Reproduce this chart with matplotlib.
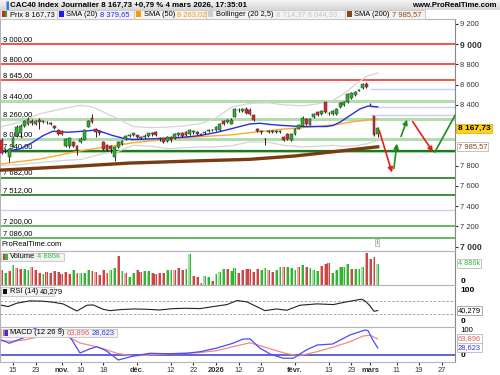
import numpy as np
import matplotlib
matplotlib.use("Agg")
import matplotlib.pyplot as plt
import matplotlib.transforms as mtransforms
from matplotlib.patches import Rectangle

plt.rcParams['font.family'] = ['Liberation Sans', 'DejaVu Sans']

W, H = 500, 375

# trading-day index: 0 = 15 oct. 2025 ... 97 = 4 mars 2026 (first candle = 10 oct.)
first_day = -3
opens = [8054, 7945, 7885, 7990, 8090, 8120, 8190, 8215, 8245, 8215, 8255, 8230, 8232, 8225,
         8195, 8150, 8140, 7995, 7990, 8035, 7995, 8030, 8055, 8185, 8270, 8160, 8140, 8030,
         8000, 7990, 7885, 7985, 8010, 8065, 8095, 8098, 8100, 8075, 8085, 8095, 8125, 8135,
         8070, 8070, 8040, 8080, 8070, 8105, 8120, 8130, 8110, 8130, 8130, 8110, 8120, 8140,
         8150, 8150, 8150, 8240, 8230, 8215, 8280, 8350, 8340, 8360, 8350, 8300, 8160, 8140,
         8065, 8135, 8140, 8130, 8140, 8085, 8115, 8055, 8115, 8165, 8195, 8260, 8205, 8280,
         8330, 8305, 8425, 8320, 8310, 8305, 8375, 8395, 8425, 8465, 8495, 8540, 8565, 8610,
         8400, 8285, 8115]
highs = [8070, 7975, 7970, 8090, 8200, 8215, 8255, 8275, 8262, 8255, 8265, 8250, 8240, 8235,
         8200, 8160, 8150, 8075, 8080, 8045, 8000, 8080, 8160, 8250, 8310, 8175, 8150, 8040,
         8010, 8000, 7995, 8040, 8050, 8100, 8110, 8125, 8105, 8090, 8110, 8125, 8130, 8140,
         8080, 8075, 8095, 8090, 8120, 8135, 8130, 8145, 8160, 8155, 8140, 8118, 8145, 8160,
         8158, 8195, 8220, 8250, 8260, 8265, 8365, 8370, 8370, 8375, 8365, 8310, 8175, 8150,
         8070, 8155, 8150, 8155, 8150, 8095, 8120, 8120, 8170, 8215, 8285, 8270, 8270, 8315,
         8340, 8350, 8430, 8330, 8350, 8370, 8430, 8435, 8520, 8530, 8535, 8560, 8620, 8630,
         8420, 8290, 8180]
lows = [7910, 7925, 7835, 7980, 8080, 8070, 8180, 8200, 8205, 8200, 8160, 8225, 8215, 8205,
        8160, 8105, 8100, 7985, 7975, 7980, 7905, 8020, 8050, 8180, 8225, 8080, 8105, 7955,
        7945, 7920, 7850, 7975, 8000, 8055, 8085, 8090, 8070, 8060, 8070, 8085, 8095, 8095,
        8045, 8020, 8030, 8030, 8060, 8095, 8085, 8095, 8100, 8115, 8105, 8100, 8110, 8130,
        8138, 8145, 8140, 8205, 8220, 8210, 8275, 8330, 8330, 8305, 8300, 8240, 8130, 8110,
        8000, 8125, 8120, 8120, 8120, 8040, 8050, 8045, 8105, 8160, 8190, 8205, 8200, 8270,
        8290, 8295, 8320, 8300, 8300, 8300, 8365, 8390, 8420, 8460, 8490, 8535, 8560, 8570,
        8395, 8095, 8080]
closes = [7925, 7955, 7960, 8075, 8180, 8195, 8240, 8260, 8225, 8245, 8235, 8240, 8228, 8215,
          8170, 8115, 8115, 8060, 8070, 7990, 7955, 8065, 8150, 8240, 8235, 8130, 8120, 7965,
          7955, 7960, 7985, 8030, 8040, 8095, 8100, 8120, 8080, 8080, 8088, 8118, 8108, 8105,
          8060, 8030, 8085, 8050, 8110, 8125, 8095, 8105, 8150, 8145, 8115, 8105, 8135, 8150,
          8148, 8185, 8210, 8215, 8250, 8250, 8355, 8345, 8355, 8315, 8310, 8255, 8145, 8130,
          8062, 8145, 8130, 8145, 8130, 8050, 8060, 8110, 8160, 8205, 8270, 8215, 8260, 8305,
          8300, 8340, 8330, 8318, 8340, 8360, 8420, 8425, 8510, 8520, 8525, 8548, 8610, 8580,
          8397, 8104, 8167.73]

# volume in thousands, colour as shown (1 = green, 0 = red)
volumes = [3300, 2800, 3200, 4600, 3800, 3700, 3600, 3300, 4100, 3300, 2800, 2500, 2900, 2800,
           3100, 3000, 2500, 2900, 2400, 3300, 2700, 2700, 2700, 3300, 3100, 2900, 2200, 3500,
           2800, 3300, 3800, 6700, 3100, 2800, 1900, 2700, 3500, 3000, 3200, 3200, 2700, 2400,
           2800, 2800, 3300, 3300, 3500, 3800, 3300, 3600, 7100, 2100, 1900,
           400, 2100, 1800, 900, 2500, 3000, 3600, 3600, 3200, 3800, 2700, 3300, 3600, 3700,
           3000, 3700, 3400, 3800, 3300, 2900, 3500, 4100, 4100, 4100, 3900, 3500, 4100, 4600,
           4100, 3800, 3500, 3200, 4400, 4800, 5000, 2800, 3300, 4100, 4100, 4800, 3700, 3700,
           3700, 4000, 7200, 6000, 6400, 4886]
vol_up = [0, 1, 0, 1, 0, 0, 1, 1, 0, 0, 0, 1, 0, 0, 0, 0, 0, 0, 0, 1, 0, 1, 1, 1, 0, 0, 0, 0,
          0, 1, 1, 0, 1, 0, 1, 1, 0, 0, 1, 1, 0, 0, 0, 0, 1, 1, 0, 0, 0, 1, 1, 0, 0,
          0, 1, 1, 0, 1, 1, 1, 0, 1, 1, 0, 0, 0, 0, 0, 0, 1, 1, 0, 0, 1, 1, 0, 1, 1, 1, 0, 1,
          0, 1, 1, 1, 0, 0, 0, 1, 1, 1, 1, 1, 0, 1, 1, 1, 0, 0, 0, 1]

# indicator lines: (day index, value)
sma20_x = [-3.5, 1.9, 5.3, 8, 10.6, 14.4, 18.6, 22.3, 23.9, 26.6, 29.3, 31.9, 36.4, 41, 45.2,
           49.7, 54.3, 58.5, 63, 65.7, 68.4, 71.8, 76.3, 80.9, 83.5, 85.1, 87, 89.6, 92.3, 94.5, 97]
sma20_y = [7935, 7965, 8031, 8096, 8139, 8129, 8139, 8152, 8129, 8096, 8070, 8057, 8063, 8070,
           8080, 8096, 8129, 8168, 8211, 8218, 8206, 8196, 8186, 8186, 8186, 8196, 8229, 8294,
           8360, 8388, 8379.65]
sma50_x = [-3.5, 7.2, 18.6, 25.8, 31.9, 41, 49.7, 58.5, 63, 71.8, 80.9, 86.2, 89.6, 97]
sma50_y = [7815, 7865, 7950, 7990, 8025, 8060, 8085, 8105, 8125, 8160, 8186, 8206, 8229, 8263.02]
sma200_x = [-3.5, 15, 31, 50, 63, 75, 86, 97]
sma200_y = [7755, 7790, 7825, 7848, 7862, 7895, 7940, 7985.57]
boll_x = [-3.5, 2, 7, 13, 18, 21, 24, 28, 32, 37, 41, 45, 50, 54, 58, 63, 68, 72, 77, 81, 85,
          88, 91, 94, 97]
boll_up = [8180, 8230, 8310, 8360, 8395, 8380, 8330, 8260, 8185, 8175, 8180, 8190, 8215, 8270,
           8375, 8415, 8420, 8400, 8390, 8410, 8440, 8510, 8600, 8680, 8714.37]
boll_dn = [7800, 7810, 7830, 7850, 7860, 7890, 7919, 7940, 8001, 7990, 7968, 7975, 7984, 7985,
           7995, 8034, 8030, 8000, 7985, 7990, 8000, 7990, 7995, 8015, 8044.93]

rsi_x = [-3.5, -1.3, 1, 4.5, 8, 10.6, 13.3, 17, 19.7, 21.3, 24, 25.8, 28.5, 32, 35.6, 39, 42.6,
         46.2, 49.7, 53.2, 56.9, 59.6, 62.2, 64.8, 67, 70.1, 72.8, 76.3, 80.8, 85.2, 88.7, 92.7,
         93.6, 94.9, 96, 97]
rsi_y = [57, 52, 62, 69, 68, 65, 60, 39, 56, 57, 44, 40, 43, 45, 44, 42, 46, 47, 46, 52, 58, 70,
         66, 52, 40, 45, 41, 56, 60, 58, 66, 74, 69, 55, 38, 40.279]
macd_x = [-3.5, -1, 3, 5, 8.5, 11, 13.3, 15.7, 17.8, 20.5, 22.3, 24.5, 28, 32, 36.4, 41, 46.3,
          49.7, 54, 58.5, 61, 63, 65.7, 68.4, 71.8, 74.5, 78, 80.9, 85, 89.6, 93.6, 94.4, 95.7, 97]
macd_y = [63, 47, 70, 100, 125, 118, 100, 60, 8, 25, 33, 20, -20, -4, 7, 5, 7, 13, 27, 47, 63,
          65, 27, 4, -13, -13, 20, 40, 44, 80, 100, 98, 60, 28.623]
signal_x = [-3.5, 0, 3, 6, 9, 12, 14, 17.8, 22.3, 27.6, 32, 36.4, 41, 46.2, 49.7, 54, 58.5, 63,
            67.5, 71.9, 75.9, 80.8, 85, 89.6, 93.1, 95, 97]
signal_y = [57, 55, 60, 70, 80, 85, 78, 48, 33, 7, -4, 0, 5, 7, 10, 17, 33, 49, 29, 9, -4, 13,
            31, 53, 76, 79, 63.896]

# horizontal levels drawn on the price chart
red_levels = [9000, 8800, 8645]
light_green_levels = [8440, 8260, 8060, 7940]
dark_green_levels = [7940, 7682, 7512]
green_levels = [7200, 7086]
label_levels = [9000, 8800, 8645, 8440, 8260, 8060, 7940, 7682, 7512, 7200, 7086]
blue_levels = [7360]
blue_short_levels = [8555, 8380, 8298]

# projection arrows (day from, price from, day to, price to, colour)
arrows = [(97.4, 8146, 100.8, 7732, 'red'), (101.3, 7771, 102.1, 8018, 'green'),
          (103.2, 8087, 104.8, 8254, 'green'), (106.3, 8234, 111.7, 7934, 'red')]
trend_line = (112.2, 7934, 118.5, 8360)

tick_days = [0, 6, 13, 18, 24, 33, 42, 48, 54, 60, 66, 75, 84, 90, 95, 102, 108, 114]
tick_names = ['15', '23', 'nov.', '10', '18', 'déc.', '12', '22', '2026', '12', '20', 'févr.',
              '13', '23', 'mars', '11', '19', '27']
bold_names = {'nov.', 'déc.', '2026', 'févr.', 'mars'}

UP, DN = '#27b327', '#e0262a'


def fr(v, dec=2):
    s = f"{v:,.{dec}f}"
    return s.replace(',', ' ').replace('.', ',')


fig = plt.figure(figsize=(5, 3.75), dpi=100)
renderer = fig.canvas.get_renderer()


def box(x0, y0, x1, y1):
    return fig.add_axes([x0 / W, 1 - y1 / H, (x1 - x0) / W, (y1 - y0) / H])


def ftext(x, y, s, **kw):
    return fig.text(x / W, 1 - y / H, s, **kw)


def chain(x, y, parts, gap=2.5, **kw):
    # texts written one after the other, each in its own colour
    for s, cc in parts:
        t = ftext(x, y, s, color=cc, va='center', **kw)
        bb = t.get_window_extent(renderer)
        x = x + bb.width * W / fig.bbox.width + gap
    return x


def tag(x0, y0, wdt, colours):
    fig.patches.append(Rectangle((x0 / W, 1 - (y0 + 8.5) / H), wdt / W, 8.5 / H,
                                 transform=fig.transFigure, facecolor='#f3f3f3',
                                 edgecolor='#c4c4c4', lw=0.6, zorder=10))
    n = len(colours)
    for k, col in enumerate(colours):
        fig.patches.append(Rectangle(((x0 + 2 + 5 * k / n) / W, 1 - (y0 + 7) / H),
                                     5 / n / W, 5.5 / H, transform=fig.transFigure,
                                     facecolor=col, lw=0, zorder=11))


days = np.arange(first_day, first_day + len(closes))
o, h, l, c = map(np.array, (opens, highs, lows, closes))
XL = (-3.46, 117.55)

# ---- title bar
tb = box(0, 0, 500, 10)
tb.imshow(np.linspace(0.96, 0.84, 20).reshape(-1, 1), cmap='gray', vmin=0, vmax=1,
          aspect='auto', extent=(0, 1, 0, 1))
tb.set_axis_off()
ftext(3, 5.3, '\u2590', color='#3a7bd5', fontsize=5, va='center')
ftext(10, 5.3, 'CAC40 Index Journalier 8 167,73 +0,79 % 4 mars 2026, 17:35:01',
      fontsize=5.7, fontweight='bold', va='center')
ftext(497, 5.3, 'www.ProRealTime.com', fontsize=5.6, fontweight='bold', va='center', ha='right')

# ---- legend row
legend_items = [
    (0, 57, ['#dd2222', '#22aa22'], [('Prix 8 167,73', 'black')]),
    (57, 77, ['#1a1aff'], [('SMA (20)', 'black'), ('8 379,65', '#2020ff')]),
    (134, 72, ['#ff9900'], [('SMA (50)', 'black'), ('8 263,02', '#ff9900')]),
    (206, 139, ['#cccccc'], [('Bollinger (20 2,5)', 'black'), ('8 714,37 8 044,93', '#c4c4c4')]),
    (345, 80, ['#8b4513'], [('SMA (200)', 'black'), ('7 985,57', '#8b4513')]),
]
for x0, wdt, cols_, parts in legend_items:
    tag(x0, 10, wdt, cols_)
    chain(x0 + 9.5, 14.3, parts, fontsize=5.4, zorder=12)

# ---- main price panel
ax = box(0, 18.5, 455, 251)
ax.set_xlim(*XL)
ax.set_ylim(6957, 9252)
ax.hlines(red_levels, *XL, color='#ee2222', lw=1.1, zorder=1)
ax.hlines(light_green_levels, *XL, color='#b5dcb0', lw=2.2, zorder=1)
ax.hlines(dark_green_levels, *XL, color='#1f7a1f', lw=1.2, zorder=1)
ax.hlines(green_levels, *XL, color='#3aa83a', lw=1.1, zorder=1)
ax.hlines(blue_levels, *XL, color='#c9d1f2', lw=1.0, zorder=1)
ax.hlines(blue_short_levels, 95, XL[1], color='#c9d1f2', lw=1.0, zorder=1)
ax.hlines([7940], *XL, color='#1f7a1f', lw=1.6, zorder=1)
lab_tr = mtransforms.offset_copy(ax.get_yaxis_transform(), fig=fig, x=0, y=1.2, units='dots')
for v in label_levels:
    ax.text(0.006, v, fr(v), transform=lab_tr, fontsize=5.4, va='bottom', ha='left', zorder=2)

ax.plot(boll_x, boll_up, color='#d4d4d4', lw=0.9, zorder=2)
ax.plot(boll_x, boll_dn, color='#d4d4d4', lw=0.9, zorder=2)
ax.plot(sma200_x, sma200_y, color='#7a3b12', lw=2.4, zorder=3)
ax.plot(sma50_x, sma50_y, color='#ffa82e', lw=1.0, zorder=3)
ax.plot(sma20_x, sma20_y, color='#2a2aee', lw=1.0, zorder=3)

cols = np.where(c >= o, UP, DN)
ax.vlines(days, l, h, color='black', lw=0.6, zorder=4)
body = np.maximum(np.abs(c - o), 3)
ax.bar(days, body, bottom=np.minimum(o, c), width=0.75, color=cols, edgecolor='#333333',
       lw=0.35, zorder=5)

for x0, y0, x1, y1, col in arrows:
    cc = '#e81c1c' if col == 'red' else '#1e8c1e'
    ax.annotate('', xy=(x1, y1), xytext=(x0, y0),
                arrowprops=dict(arrowstyle='-|>', color=cc, lw=1.2, mutation_scale=7,
                                shrinkA=0, shrinkB=0), zorder=6)
ax.plot(trend_line[::2], trend_line[1::2], color='#1e8c1e', lw=1.2, zorder=6, clip_on=True)

price_ticks = [9200, 9000, 8800, 8600, 8400, 7800, 7600, 7400, 7200, 7000]
ax.yaxis.tick_right()
ax.set_yticks(price_ticks)
ax.set_yticklabels([fr(v, 0) for v in price_ticks])
ax.tick_params(axis='y', labelsize=5.4, length=2, pad=1.5, colors='#333333')
for tl in ax.get_yticklabels():
    if tl.get_text() in ('9 000', '7 000'):
        tl.set_fontweight('bold')
        tl.set_fontsize(6.2)
ax.set_xticks([])
ax.text(1.006, closes[-1], fr(closes[-1]), transform=ax.get_yaxis_transform(), fontsize=6,
        fontweight='bold', va='center', ha='left', zorder=8,
        bbox=dict(boxstyle='square,pad=0.15', facecolor='#ffd21e', edgecolor='#d9a800', lw=0.5))
ax.text(1.006, sma200_y[-1], fr(sma200_y[-1]), transform=ax.get_yaxis_transform(),
        fontsize=5.4, color='#8b4513', va='center', ha='left',
        bbox=dict(boxstyle='square,pad=0.15', facecolor='white', edgecolor='#aaaaaa', lw=0.5))
ax.text(0.004, 0.012, 'ProRealTime.com', transform=ax.transAxes, fontsize=5.4, va='bottom')
ax.text(377 / 455, 0.025, 'i', transform=ax.transAxes, fontsize=4.5, color='#666666',
        ha='center', va='bottom',
        bbox=dict(boxstyle='square,pad=0.2', facecolor='#f0f0f0', edgecolor='#999999', lw=0.4))

# ---- volume panel
axv = box(0, 251, 455, 285)
axv.set_xlim(*XL)
axv.set_ylim(0, 7730)
v = np.array(volumes)
up = np.array(vol_up) == 1
axv.bar(days, v, width=0.75, color=np.where(up, '#2fb82f', '#cc4646'), lw=0)
axv.bar(days - 0.2, v, width=0.3, color=np.where(up, '#a3dfa3', '#e7a9a9'), lw=0)
axv.set_xticks([])
axv.set_yticks([])
axv.text(1.012, 900, '0', transform=axv.get_yaxis_transform(), fontsize=6, fontweight='bold',
         va='center')
axv.text(1.006, volumes[-1], '4 886k', transform=axv.get_yaxis_transform(), fontsize=5.2,
         color='#33bb33', va='center',
         bbox=dict(boxstyle='square,pad=0.15', facecolor='white', edgecolor='#aaaaaa', lw=0.5))

# ---- RSI panel
axr = box(0, 285, 455, 327)
axr.set_xlim(*XL)
axr.set_ylim(-8.5, 116)
axr.hlines([70, 30], *XL, color='#999999', lw=0.6, linestyles=(0, (3, 2)))
axr.plot(rsi_x, rsi_y, color='#222222', lw=0.8)
axr.set_xticks([])
axr.set_yticks([])
axr.text(1.012, 100, '100', transform=axr.get_yaxis_transform(), fontsize=6,
         fontweight='bold', va='center')
axr.text(1.012, 9, '0', transform=axr.get_yaxis_transform(), fontsize=6,
         fontweight='bold', va='center')
axr.text(1.006, rsi_y[-1], '40,279', transform=axr.get_yaxis_transform(), fontsize=5.4,
         va='center',
         bbox=dict(boxstyle='square,pad=0.15', facecolor='white', edgecolor='#888888', lw=0.5))

# ---- MACD panel
axm = box(0, 327, 455, 362)
axm.set_xlim(*XL)
axm.set_ylim(-28, 112)
axm.axhline(0, color='#3838c8', lw=1.1)
axm.plot(signal_x, signal_y, color='#f08a8a', lw=0.9)
axm.plot(macd_x, macd_y, color='#4a4aff', lw=0.9)
axm.set_yticks([])
axm.text(1.012, 100, '100', transform=axm.get_yaxis_transform(), fontsize=5.6, va='center')
axm.text(1.012, -2, '0', transform=axm.get_yaxis_transform(), fontsize=6, fontweight='bold',
         va='center')
axm.text(1.006, signal_y[-1], '63,896', transform=axm.get_yaxis_transform(), fontsize=5.4,
         color='#e06060', va='center',
         bbox=dict(boxstyle='square,pad=0.15', facecolor='white', edgecolor='#aaaaaa', lw=0.5))
axm.text(1.006, macd_y[-1], '28,623', transform=axm.get_yaxis_transform(), fontsize=5.4,
         color='#3030ee', va='center',
         bbox=dict(boxstyle='square,pad=0.15', facecolor='white', edgecolor='#aaaaaa', lw=0.5))
axm.set_xticks(tick_days)
axm.set_xticklabels(tick_names)
axm.tick_params(axis='x', labelsize=5.4, length=2, pad=1.5, colors='#333333')
for tl in axm.get_xticklabels():
    if tl.get_text() in bold_names:
        tl.set_fontweight('bold')

for a in (ax, axv, axr, axm):
    for s in a.spines.values():
        s.set_color('#b4b4b4')
        s.set_linewidth(0.8)
    a.spines['right'].set_color('#888888')

# panel captions
captions = [
    (252.5, 63, ['#dd3333', '#33bb33'], [('Volume', 'black'), ('4 886k', '#44bb44')]),
    (287, 53, ['#111111'], [('RSI (14)', 'black'), ('40,279', 'black')]),
    (328.5, 116, ['#e06060', '#3030ee'],
     [('MACD (12 26 9)', 'black'), ('63,896', '#e06060'), ('28,623', '#3030ee')]),
]
for y0, wdt, cols_, parts in captions:
    tag(0.5, y0, wdt, cols_)
    chain(9.5, y0 + 4.3, parts, fontsize=5.4, zorder=12)

fig.savefig('out.png', dpi=100, facecolor='white')
